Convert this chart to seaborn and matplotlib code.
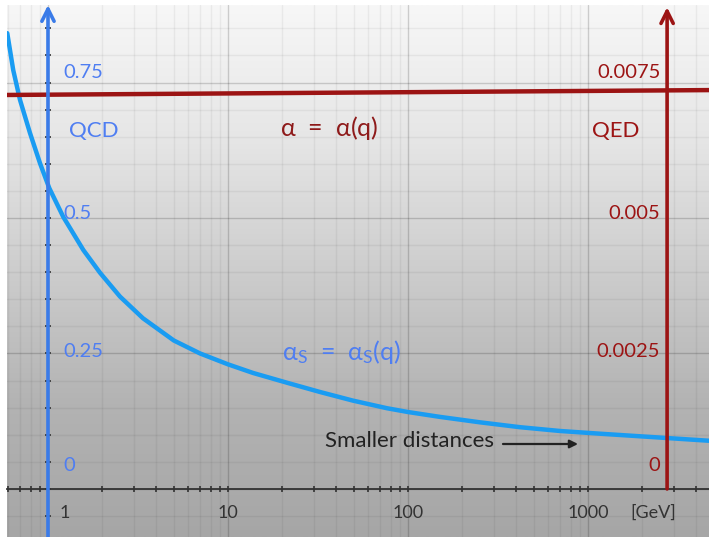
import numpy as np
import pandas as pd
import seaborn as sns
from matplotlib import pyplot as plt
from matplotlib.ticker import FixedLocator, NullFormatter
from matplotlib.colors import LinearSegmentedColormap


# strong coupling
q_qcd = [0.594, 0.641, 0.699, 0.794, 0.903, 1.017, 1.216, 1.571, 1.945, 2.512, 3.37, 5.0,
         7.0, 10.0, 13.8, 21.3, 32.4, 49.5, 76.4, 100, 150.6, 251, 419, 699, 1166, 2750, 4700]
alpha_s = [0.841, 0.773, 0.718, 0.657, 0.601, 0.555, 0.502, 0.441, 0.399, 0.355, 0.315, 0.274,
           0.25, 0.23, 0.214, 0.196, 0.179, 0.163, 0.149, 0.142, 0.133, 0.123, 0.114, 0.107,
           0.102, 0.094, 0.089]

# electromagnetic coupling (nearly flat)
q_qed = [0.59, 4700]
alpha_em = [0.00727, 0.00736]

qcd_labels = ["0", "0.25", "0.5", "0.75"]
qed_labels = ["0", "0.0025", "0.005", "0.0075"]
label_y = [0.044, 0.253, 0.509, 0.769]
qcd_ticks = [0, 0.25, 0.5, 0.75]
x_ticks = [1, 10, 100, 1000]
x_labels = ["1", "10", "100", "1000"]

BLUE_TXT = "#4f7ef2"
BLUE_AX = "#3a7be8"
BLUE_CURVE = "#1a9cf2"
RED = "#9c1414"

XLIM = (0.592, 4700)
YLIM = (-0.0886, 0.893)
Q_RED = 2750


def main() -> None:
    sns.set_theme(style="white")
    plt.rcParams["font.family"] = ["Lato", "DejaVu Sans"]
    plt.rcParams["mathtext.fontset"] = "dejavusans"
    plt.rcParams["mathtext.default"] = "regular"

    fig = plt.figure(figsize=(7.09, 5.37), dpi=100)
    ax = fig.add_axes([7 / 709, 0, 702 / 709, 532 / 537])
    ax.set_xscale("log")
    ax.set_xlim(*XLIM)
    ax.set_ylim(*YLIM)

    # background gradient, light on top
    cmap = LinearSegmentedColormap.from_list("bg", ["#f7f7f7", "#e6e6e6", "#cdcdcd", "#b3b3b3", "#a6a6a6"])
    grad = np.linspace(0, 1, 256).reshape(-1, 1)
    ax.imshow(grad, aspect="auto", cmap=cmap, extent=[0, 1, 0, 1],
              transform=ax.transAxes, zorder=0, origin="upper")

    # grid
    minor_x = [m * 10.0 ** e for e in range(-1, 4) for m in range(2, 10)]
    minor_x = [v for v in minor_x if XLIM[0] < v < XLIM[1]]
    ax.xaxis.set_major_locator(FixedLocator(x_ticks))
    ax.xaxis.set_minor_locator(FixedLocator(minor_x))
    ax.yaxis.set_major_locator(FixedLocator(qcd_ticks))
    ax.yaxis.set_minor_locator(FixedLocator(np.arange(-0.05, 0.86, 0.05)))
    ax.grid(which="major", color="black", alpha=0.17, lw=1.0, zorder=1)
    ax.grid(which="minor", color="black", alpha=0.05, lw=1.0, zorder=1)
    ax.set_axisbelow(True)

    for s in ax.spines.values():
        s.set_visible(False)
    ax.spines["bottom"].set_position(("data", 0))
    ax.spines["bottom"].set_visible(True)
    ax.spines["bottom"].set_color("#333333")
    ax.spines["bottom"].set_linewidth(1.3)
    ax.spines["left"].set_position(("data", 1))
    ax.tick_params(axis="both", which="both", direction="inout", color="#333333",
                   length=4, width=1.2, bottom=True, left=True)
    ax.xaxis.set_major_formatter(NullFormatter())
    ax.xaxis.set_minor_formatter(NullFormatter())
    ax.yaxis.set_major_formatter(NullFormatter())

    # QCD curve
    df = pd.DataFrame({"q": q_qcd, "alpha": alpha_s})
    sns.lineplot(data=df, x="q", y="alpha", ax=ax, color=BLUE_CURVE, lw=3.2, zorder=4)
    ax.set_xlabel("")
    ax.set_ylabel("")

    # QED line on a twin scale
    ax2 = ax.twinx()
    ax2.set_ylim(YLIM[0] / 100, YLIM[1] / 100)
    ax2.patch.set_visible(False)
    for s in ax2.spines.values():
        s.set_visible(False)
    ax2.set_yticks([])
    dfe = pd.DataFrame({"q": q_qed, "alpha": alpha_em})
    sns.lineplot(data=dfe, x="q", y="alpha", ax=ax2, color=RED, lw=3.2, zorder=4)
    ax2.set_xlim(*XLIM)
    ax2.set_ylabel("")

    # axis arrows
    ax2.annotate("", xy=(1, 0.893), xytext=(1, YLIM[0]), xycoords=ax.transData,
                 textcoords=ax.transData, annotation_clip=False,
                 arrowprops=dict(arrowstyle="->", color=BLUE_AX, lw=2.6,
                                 mutation_scale=22, shrinkA=0, shrinkB=0), zorder=5)
    ax2.annotate("", xy=(Q_RED, 0.889), xytext=(Q_RED, 0), xycoords=ax.transData,
                 textcoords=ax.transData, annotation_clip=False,
                 arrowprops=dict(arrowstyle="->", color=RED, lw=2.6,
                                 mutation_scale=22, shrinkA=0, shrinkB=0), zorder=5)

    # tick labels
    for yv, lab in zip(label_y, qcd_labels):
        ax2.text(1.22, yv, lab, color=BLUE_TXT, fontsize=14.5, ha="left", va="center",
                 transform=ax.transData, zorder=6)
    for yv, lab in zip(label_y, qed_labels):
        ax2.text(2520, yv, lab, color=RED, fontsize=14.5, ha="right", va="center",
                 transform=ax.transData, zorder=6)
    ax.text(1.24, -0.044, x_labels[0], color="#333333", fontsize=13, ha="center", va="center")
    for xv, lab in zip(x_ticks[1:], x_labels[1:]):
        ax.text(xv, -0.044, lab, color="#333333", fontsize=13, ha="center", va="center")
    ax.text(2300, -0.044, "[GeV]", color="#333333", fontsize=13, ha="center", va="center")

    # annotations
    ax.text(1.31, 0.661, "QCD", color=BLUE_TXT, fontsize=16, ha="left", va="center")
    ax.text(1433, 0.661, "QED", color=RED, fontsize=16, ha="center", va="center")
    ax.text(36.6, 0.666, r"$\alpha\ =\ \alpha(q)$", color="#8e1a1a", fontsize=18,
            ha="center", va="center")
    ax2.text(42.5, 0.253, r"$\alpha_{S}\ =\ \alpha_{S}(q)$", color=BLUE_TXT, fontsize=18,
             ha="center", va="center", transform=ax.transData, zorder=6)
    ax.text(34.6, 0.0886, "Smaller distances", color="#222222", fontsize=16,
            ha="left", va="center")
    ax.annotate("", xy=(880, 0.083), xytext=(337, 0.083),
                arrowprops=dict(arrowstyle="-|>", color="#222222", lw=1.6,
                                mutation_scale=12, shrinkA=0, shrinkB=0))

    fig.savefig("out.png", dpi=100, facecolor="white")


if __name__ == "__main__":
    main()
